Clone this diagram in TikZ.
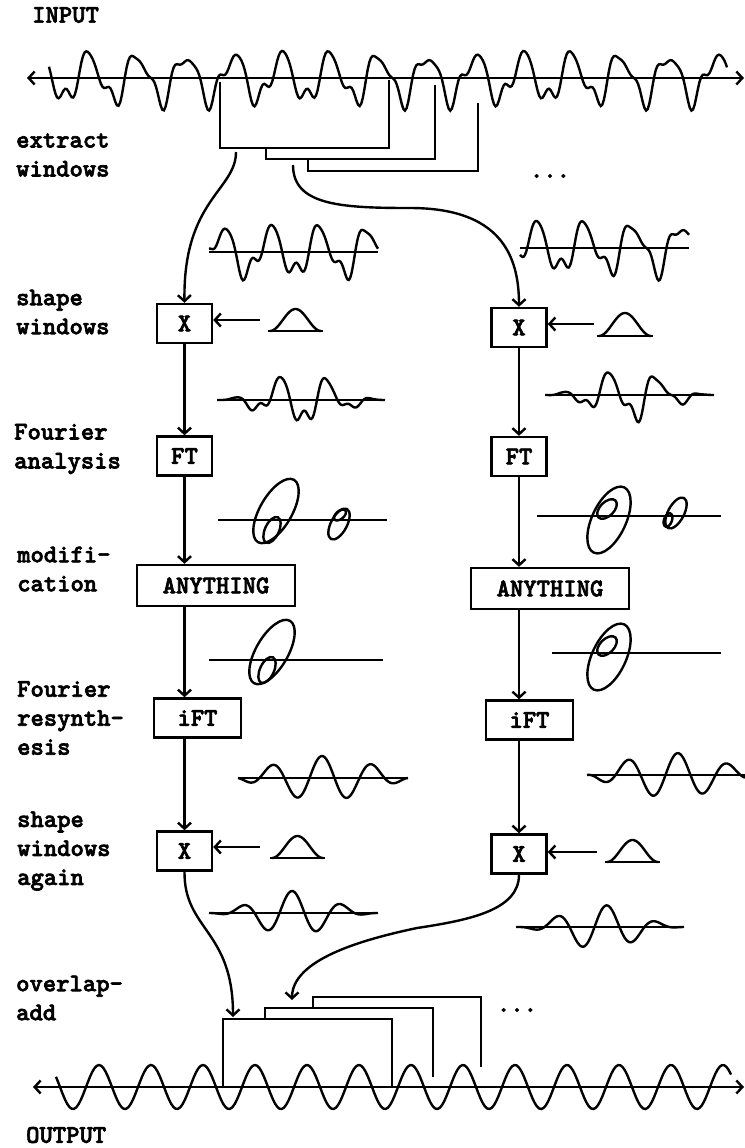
\documentclass[tikz,border=0pt]{standalone}
\usepackage{fontspec}
\newfontfamily\lblfont{lmmonolt10-bold.otf}[FakeBold=2.5]
\usetikzlibrary{arrows.meta}
\begin{document}
\begin{tikzpicture}[x=0.5pt, y=-0.5pt, line width=1.2pt,
  lbl/.style={font=\lblfont\fontsize{12.7}{14.5}\selectfont, align=left, anchor=west, inner sep=0pt},
  box/.style={draw, font=\lblfont\fontsize{12.7}{14.5}\selectfont, inner sep=0pt, minimum width=27.5pt, minimum height=19.5pt},
  arr/.style={-{Straight Barb[length=3pt,width=6.5pt]}},
  axisline/.style={{Straight Barb[length=3pt,width=6.5pt]}-{Straight Barb[length=3pt,width=6.5pt]}},
  declare function={
    sig(\p)=22*sin((\p-400)*7.4534+248)+8*sin(2.2*((\p-400)*7.4534+248))+3.5*sin(3.2*((\p-400)*7.4534+248)+60);
    hann(\u,\v,\w)=sin((\u-\v)/\w*180)*sin((\u-\v)/\w*180);
  }]
  \useasboundingbox (0,0) rectangle (745,1148);
  % Labels
  \node[lbl] (tin) at (31,15) {INPUT};
  \node[lbl] (text) at (15,155) {extract\\windows};
  \node[lbl] (tshape) at (15,312) {shape\\windows};
  \node[lbl] (tfour) at (13,449) {Fourier\\analysis};
  \node[lbl] (tmod) at (16,569) {modifi-\\cation};
  \node[lbl] (tres) at (16,718) {Fourier\\resynth-\\esis};
  \node[lbl] (tagain) at (16,851) {shape\\windows\\again};
  \node[lbl] (tola) at (15,998) {overlap-\\add};
  \node[lbl] (tout) at (25,1135) {OUTPUT};
  % Input signal
  \draw[axisline] (27,78) -- (744,78);
  \draw plot[domain=49:727, samples=420] (\x,{78-sig(\x)});
  % Extract windows
  \draw (220,82) -- (220,148) -- (389,148) -- (389,80);
  \draw (266,148) -- (266,159) -- (435,159) -- (435,85);
  \draw (308,159) -- (308,171) -- (478,171) -- (478,103);
  \node[lbl, anchor=center] (dotsin) at (550,176) {...};
  \coordinate (cut1) at (236,152);
  \coordinate (cut2) at (293,165);
  % Boxes
  \node[box] (xl1) at (184.5,323.5) {X};
  \node[box] (ftl) at (184.5,456) {FT};
  \node[box, minimum width=79pt, minimum height=20.5pt] (anyl) at (216,585.5) {ANYTHING};
  \node[box, minimum width=43.5pt] (iftl) at (197.5,718) {iFT};
  \node[box] (xl3) at (184.5,851) {X};
  \node[box] (xr1) at (519,327.5) {X};
  \node[box] (ftr) at (519,456.5) {FT};
  \node[box, minimum width=79pt, minimum height=20.5pt] (anyr) at (550,588.5) {ANYTHING};
  \node[box, minimum width=43.5pt] (iftr) at (529.5,720) {iFT};
  \node[box] (xr3) at (519,854) {X};
  % Chains
  \draw[arr] (cut1) .. controls (236,190) and (183,200) .. (xl1.north);
  \draw[arr] (cut2) .. controls (293,205) and (340,208) .. (410,208) .. controls (500,208) and (519,255) .. (xr1.north);
  \draw[arr] (xl1) -- (ftl);
  \draw[arr] (ftl) -- (ftl |- anyl.north);
  \draw[arr] (ftl |- anyl.south) -- (ftl |- iftl.north);
  \draw[arr] (ftl |- iftl.south) -- (xl3);
  \draw[arr] (xr1) -- (ftr);
  \draw[arr] (ftr) -- (ftr |- anyr.north);
  \draw[arr] (ftr |- anyr.south) -- (ftr |- iftr.north);
  \draw[arr] (ftr |- iftr.south) -- (xr3);
  % Window shapes
  \coordinate (wl1) at (260,320);
  \coordinate (wr1) at (594,324);
  \coordinate (wl3) at (260,847);
  \coordinate (wr3) at (597,852);
  \draw[arr] (wl1) -- (wl1 -| xl1.east);
  \draw[arr] (wr1) -- (wr1 -| xr1.east);
  \draw[arr] (wl3) -- (wl3 -| xl3.east);
  \draw[arr] (wr3) -- (wr3 -| xr3.east);
  \draw (268,331) -- (323,331);
  \draw plot[domain=270:321, samples=40] (\x,{331-22*hann(\x,270,51)});
  \draw (597,336) -- (653,336);
  \draw plot[domain=599:651, samples=40] (\x,{336-23*hann(\x,599,52)});
  \draw (270,858) -- (325,858);
  \draw plot[domain=272:323, samples=40] (\x,{858-22*hann(\x,272,51)});
  \draw (605,862) -- (660,862);
  \draw plot[domain=607:658, samples=40] (\x,{862-22*hann(\x,607,51)});
  % Extracted pieces
  \draw (209,252) -- (378,252);
  \draw plot[domain=209:378, samples=140] (\x,{252-sig(\x+11)});
  \draw (520,248) -- (689,248);
  \draw plot[domain=520:689, samples=140] (\x,{248-sig(\x-254)});
  % Windowed pieces
  \draw (217,400) -- (385,400);
  \draw plot[domain=217:385, samples=140] (\x,{400-sig(\x+3)*hann(\x,217,168)});
  \draw (545,395) -- (714,395);
  \draw plot[domain=545:714, samples=140] (\x,{395-sig(\x-279)*hann(\x,545,169)});
  % Spectra
  \draw (218,520) -- (387,520);
  \draw[rotate around={60:(276,511)}] (276,511) ellipse [x radius=36, y radius=16];
  \draw[rotate around={65:(272,530)}] (272,530) ellipse [x radius=14, y radius=7];
  \draw[rotate around={62:(339,524)}] (339,524) ellipse [x radius=17, y radius=8];
  \draw[rotate around={40:(340,515)}] (340,515) ellipse [x radius=7, y radius=4];
  \draw (537,516) -- (721,516);
  \draw[rotate around={65:(609,520)}] (609,520) ellipse [x radius=36, y radius=17];
  \draw[rotate around={45:(607,509)}] (607,509) ellipse [x radius=12, y radius=7];
  \draw[rotate around={62:(676,513)}] (676,513) ellipse [x radius=17, y radius=8];
  \draw[rotate around={70:(668,520)}] (668,520) ellipse [x radius=7, y radius=4];
  % Modified spectra
  \draw (209,660) -- (383,660);
  \draw[rotate around={60:(272,652)}] (272,652) ellipse [x radius=36, y radius=16];
  \draw[rotate around={65:(267,670)}] (267,670) ellipse [x radius=14, y radius=7];
  \draw (552,653) -- (721,653);
  \draw[rotate around={65:(609,657)}] (609,657) ellipse [x radius=36, y radius=17];
  \draw[rotate around={45:(607,646)}] (607,646) ellipse [x radius=12, y radius=7];
  % Resynthesized pieces
  \draw (238,778) -- (408,778);
  \draw plot[domain=238:408, samples=140] (\x,{778-22*cos((\x-322)*7.2)*sin((\x-238)/170*180)});
  \draw (587,775) -- (745,775);
  \draw plot[domain=587:745, samples=140] (\x,{775-22*cos((\x-678)*7.2)*sin((\x-587)/170*180)});
  % Reshaped pieces
  \draw (209,913) -- (378,913);
  \draw plot[domain=209:378, samples=140] (\x,{913-22*cos((\x-292)*7.2)*hann(\x,209,169)});
  \draw (516,927) -- (684,927);
  \draw plot[domain=516:684, samples=140] (\x,{927-22*cos((\x-607)*7.2)*hann(\x,516,168)});
  % Overlap-add
  \coordinate (add1) at (233,1017);
  \coordinate (add2) at (292,1000);
  \draw[arr] (xl3.south) .. controls (184,930) and (233,930) .. (add1);
  \draw[arr] (xr3.south) .. controls (519,910) and (470,920) .. (417,928) .. controls (360,940) and (292,960) .. (add2);
  \draw (223,1087) -- (223,1019) -- (392,1019) -- (392,1087);
  \draw (265,1019) -- (265,1008) -- (433,1008) -- (433,1077);
  \draw (313,1008) -- (313,997) -- (481,997) -- (481,1067);
  \node[lbl, anchor=center] (dotsout) at (517,1010) {...};
  % Output signal
  \draw[axisline] (33,1087) -- (744,1087);
  \draw plot[domain=56:731, samples=300] (\x,{1087-22*cos((\x-203)*6.9231)});
\end{tikzpicture}
\end{document}
